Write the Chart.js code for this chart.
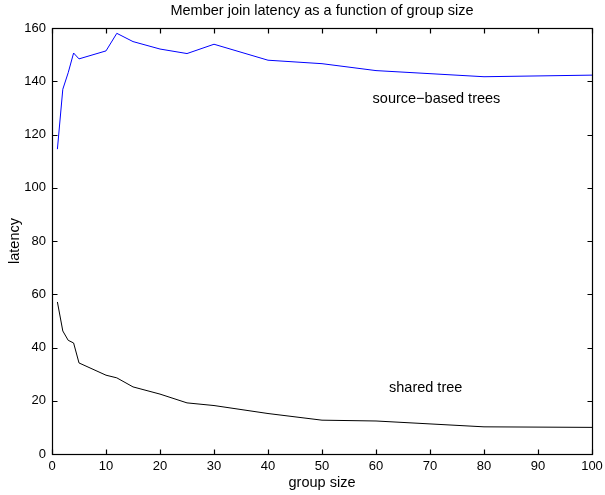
<!DOCTYPE html>
<html>
<head>
<meta charset="utf-8">
<script src="https://cdn.jsdelivr.net/npm/chart.js@4.4.1/dist/chart.umd.min.js"></script>
<style>
  html, body { margin: 0; padding: 0; background: #fff; }
  canvas { display: block; }
</style>
</head>
<body>
<canvas id="c" width="605" height="495" style="width:605px;height:495px"></canvas>
<script>
// ---- data ----
const groupSizes  = [1, 2, 3, 4, 5, 10, 12, 15, 20, 25, 30, 40, 50, 60, 80, 100];
const sourceBased = [114.5, 137, 143.2, 150.6, 148.4, 151.4, 158, 154.9, 152.1, 150.4, 153.9, 147.9, 146.6, 144, 141.7, 142.3];
const sharedTree  = [57.1, 46.2, 42.7, 41.7, 34.2, 29.6, 28.6, 25.2, 22.5, 19.2, 18.2, 15.2, 12.7, 12.4, 10.2, 10.0];
const xTicks = [0, 10, 20, 30, 40, 50, 60, 70, 80, 90, 100];
const yTicks = [0, 20, 40, 60, 80, 100, 120, 140, 160];
const chartTitle = 'Member join latency as a function of group size';
const labelTexts = ["source\u2212based trees", "shared tree"];
const labelX = [71.2, 69.2];
const labelY = [133.4, 24.7];

const FONT = '"Liberation Sans", Arial, Helvetica, sans-serif';

const framePlugin = {
  id: 'frame',
  afterDatasetsDraw(chart) {
    const { ctx, chartArea: { left, right, top, bottom }, scales: { x, y } } = chart;
    ctx.save();
    ctx.strokeStyle = '#000';
    ctx.lineWidth = 1.2;
    const L = Math.round(left) + 0.5, R = Math.round(right) + 0.5;
    const T = Math.round(top) + 0.5, B = Math.round(bottom) + 0.5;
    ctx.strokeRect(L, T, R - L, B - T);
    ctx.beginPath();
    const tl = 5;
    xTicks.forEach(v => {
      const px = Math.round(x.getPixelForValue(v)) + 0.5;
      ctx.moveTo(px, B); ctx.lineTo(px, B - tl);
      ctx.moveTo(px, T); ctx.lineTo(px, T + tl);
    });
    yTicks.forEach(v => {
      const py = Math.round(y.getPixelForValue(v)) + 0.5;
      ctx.moveTo(L, py); ctx.lineTo(L + tl, py);
      ctx.moveTo(R, py); ctx.lineTo(R - tl, py);
    });
    ctx.stroke();
    ctx.font = '14.5px ' + FONT;
    ctx.fillStyle = '#000';
    ctx.textAlign = 'center';
    ctx.textBaseline = 'middle';
    // title centred over the plot area
    ctx.fillText(chartTitle, (left + right) / 2, 11);
    labelTexts.forEach((t, i) => {
      ctx.fillText(t, x.getPixelForValue(labelX[i]), y.getPixelForValue(labelY[i]));
    });
    ctx.restore();
  }
};

new Chart(document.getElementById('c'), {
  type: 'line',
  data: {
    datasets: [
      {
        label: 'source-based trees',
        data: groupSizes.map((g, i) => ({ x: g, y: sourceBased[i] })),
        borderColor: '#0000ff',
        borderWidth: 1,
        pointRadius: 0,
        tension: 0,
        fill: false
      },
      {
        label: 'shared tree',
        data: groupSizes.map((g, i) => ({ x: g, y: sharedTree[i] })),
        borderColor: '#000000',
        borderWidth: 1,
        pointRadius: 0,
        tension: 0,
        fill: false
      }
    ]
  },
  options: {
    responsive: false,
    animation: false,
    devicePixelRatio: 1,
    layout: { padding: { left: 0, right: 13, top: 28, bottom: 0 } },
    plugins: {
      legend: { display: false },
      tooltip: { enabled: false },
      title: { display: false }
    },
    scales: {
      x: {
        type: 'linear',
        min: 0, max: 100,
        afterBuildTicks: s => { s.ticks = xTicks.map(v => ({ value: v })); },
        afterFit: s => { s.height = 41; s.paddingLeft = 0; s.paddingRight = 0; },
        grid: { display: false, drawTicks: false },
        border: { display: false },
        ticks: { color: '#000', font: { family: FONT, size: 13 }, padding: 4.2, maxRotation: 0, autoSkip: false },
        title: { display: true, text: 'group size', color: '#000', font: { family: FONT, size: 14.5 }, padding: { top: 0, bottom: 3.3 } }
      },
      y: {
        type: 'linear',
        min: 0, max: 160,
        afterBuildTicks: s => { s.ticks = yTicks.map(v => ({ value: v })); },
        afterFit: s => { s.width = 52; s.paddingTop = 0; s.paddingBottom = 0; },
        grid: { display: false, drawTicks: false },
        border: { display: false },
        ticks: { color: '#000', font: { family: FONT, size: 13 }, padding: 6, autoSkip: false },
        title: { display: true, text: 'latency', color: '#000', font: { family: FONT, size: 14.5 }, padding: { top: 6.3, bottom: 0 } }
      }
    }
  },
  plugins: [framePlugin]
});
</script>
</body>
</html>
